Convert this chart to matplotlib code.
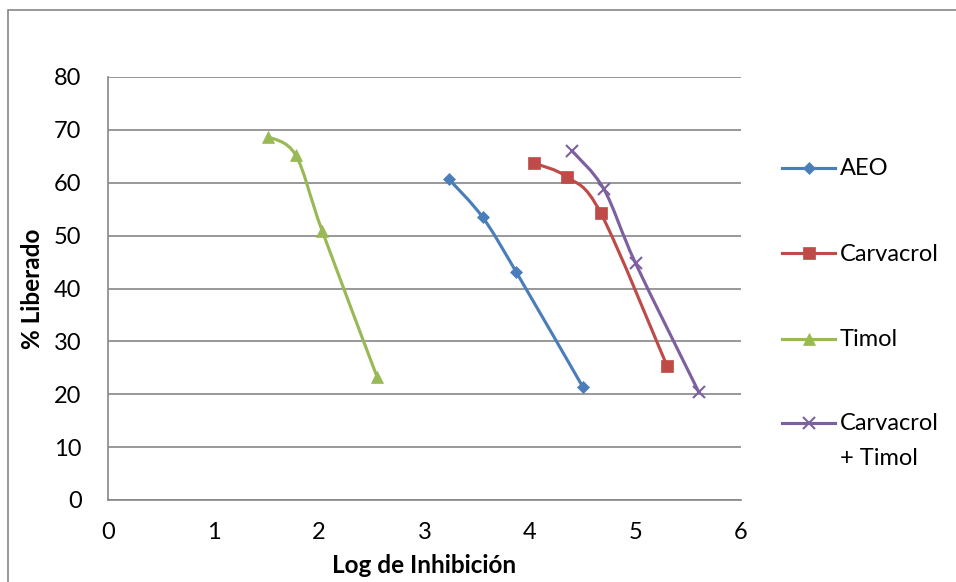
import matplotlib
matplotlib.use("Agg")
import matplotlib.pyplot as plt
import numpy as np
from matplotlib.path import Path
from matplotlib.patches import PathPatch, Rectangle
from matplotlib.lines import Line2D

plt.rcParams['font.family'] = ['Lato', 'DejaVu Sans']

# Series data: log of inhibition vs. percentage released
series_names = ["AEO", "Carvacrol", "Timol", "Carvacrol\n+ Timol"]
aeo_x = [3.23, 3.55, 3.87, 4.50]
aeo_y = [60.7, 53.5, 43.1, 21.4]
carvacrol_x = [4.04, 4.35, 4.67, 5.30]
carvacrol_y = [63.7, 61.1, 54.3, 25.3]
timol_x = [1.52, 1.78, 2.03, 2.55]
timol_y = [68.7, 65.2, 50.9, 23.3]
mix_x = [4.40, 4.70, 5.00, 5.60]
mix_y = [66.0, 58.8, 44.8, 20.4]

x_ticks = [0, 1, 2, 3, 4, 5, 6]
y_ticks = [0, 10, 20, 30, 40, 50, 60, 70, 80]

colors = ["#4A7EBB", "#BE4B48", "#98B954", "#7D60A0"]
markers = ["D", "s", "^", "x"]
msizes = [6.5, 8, 8, 8]

FS = 17

W, H = 956, 582
fig = plt.figure(figsize=(W / 100, H / 100), dpi=100)
ax = fig.add_axes([108 / W, 1 - 500 / H, (741 - 108) / W, (500 - 77) / H])


def smooth_path(xs, ys):
    """Cubic Bezier path through the points (Catmull-Rom style tangents)."""
    pts = np.column_stack([xs, ys]).astype(float)
    n = len(pts)
    verts = [pts[0]]
    codes = [Path.MOVETO]
    for i in range(n - 1):
        p0 = pts[i - 1] if i > 0 else pts[i]
        p1 = pts[i]
        p2 = pts[i + 1]
        p3 = pts[i + 2] if i + 2 < n else pts[i + 1]
        c1 = p1 + (p2 - p0) / 6.0
        c2 = p2 - (p3 - p1) / 6.0
        verts += [c1, c2, p2]
        codes += [Path.CURVE4] * 3
    return Path(verts, codes)


all_x = [aeo_x, carvacrol_x, timol_x, mix_x]
all_y = [aeo_y, carvacrol_y, timol_y, mix_y]

for xs, ys, c, m, ms in zip(all_x, all_y, colors, markers, msizes):
    patch = PathPatch(smooth_path(xs, ys), facecolor="none", edgecolor=c,
                      lw=2.25, capstyle="round", joinstyle="round", zorder=3)
    ax.add_patch(patch)
    ax.plot(xs, ys, linestyle="none", marker=m, color=c, markersize=ms,
            markeredgewidth=1.5 if m == "x" else 0.5, zorder=4)

ax.set_xlim(0, 6)
ax.set_ylim(0, 80)
ax.set_xticks(x_ticks)
ax.set_yticks(y_ticks)
ax.yaxis.grid(True, color="#868686", lw=1.2)
ax.set_axisbelow(True)
for s in ["top", "right"]:
    ax.spines[s].set_visible(False)
for s in ["left", "bottom"]:
    ax.spines[s].set_color("#868686")
    ax.spines[s].set_linewidth(1.2)
ax.tick_params(axis="both", length=0, labelsize=FS, colors="black")
ax.tick_params(axis="x", pad=16)
ax.tick_params(axis="y", pad=19)

ax.set_xlabel("Log de Inhibición", fontsize=17.5, fontweight="bold", labelpad=8)
ax.set_ylabel("% Liberado", fontsize=17.5, fontweight="bold", labelpad=7)

# Legend drawn as separate handles and labels on the right
legend_y = [168, 253, 339, 423]
for name, c, m, ms, py in zip(series_names, colors, markers, msizes, legend_y):
    fy = 1 - py / H
    fig.add_artist(Line2D([782 / W, 835 / W], [fy, fy], color=c, lw=2.25))
    fig.add_artist(Line2D([808.5 / W], [fy], color=c, marker=m, markersize=ms,
                          markeredgewidth=1.5 if m == "x" else 0.5))
    fig.text(840 / W, 1 - (py - 9.5) / H, name, fontsize=FS, va="top",
             ha="left", linespacing=1.8)

# Outer chart frame
fig.add_artist(Rectangle((8 / W, -0.1), 1.2, 1 - 10 / H + 0.1, transform=fig.transFigure,
                         fill=False, edgecolor="#868686", lw=1.2))

fig.savefig("out.png", dpi=100)
